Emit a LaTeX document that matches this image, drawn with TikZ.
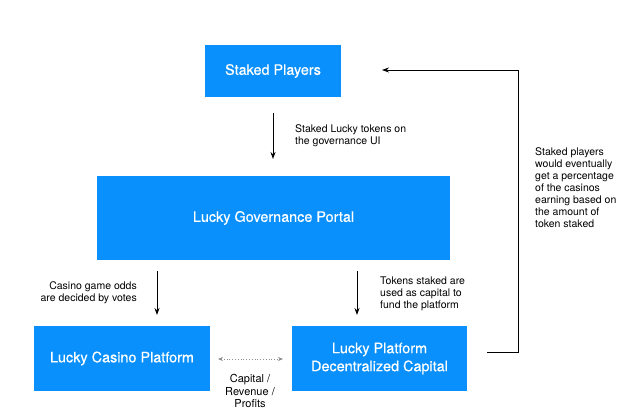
\documentclass[tikz,border=0pt]{standalone}
\usepackage{fontspec}
\setmainfont{TeX Gyre Heros}
\newfontfamily\boxfont[FakeBold=0.45]{TeX Gyre Heros}
\usetikzlibrary{arrows.meta}
\definecolor{boxblue}{RGB}{10,144,252}
\definecolor{dotgray}{RGB}{140,140,140}
\tikzset{
  bluebox/.style={fill=boxblue, draw=none, text=white, font=\boxfont\fontsize{14.4}{18}\selectfont, align=center, inner sep=0pt},
  lbl/.style={font=\fontsize{10.5}{12}\selectfont, inner sep=0pt},
  flow/.style={-{Stealth[length=7pt,width=5pt]}, line width=0.9pt},
}
\begin{document}
\begin{tikzpicture}[x=1pt,y=-1pt]
\useasboundingbox (0,0) rectangle (642,418);
\node[bluebox, minimum width=136pt, minimum height=52pt] (sp) at (273,71) {Staked Players};
\node[bluebox, minimum width=353pt, minimum height=84pt] (gp) at (273.5,218) {Lucky Governance Portal};
\node[bluebox, minimum width=176pt, minimum height=65pt] (cp) at (122,358.5) {Lucky Casino Platform};
\node[bluebox, minimum width=175pt, minimum height=65pt] (dc) at (379.5,358.5) {Lucky Platform\\Decentralized Capital};

\coordinate (a1s) at (273,113);
\coordinate (a1e) at (273,159);
\draw[flow] (a1s) -- (a1e);
\node[lbl, anchor=west, align=left] (l1) at (295,136) {Staked Lucky tokens on\\the governance UI};

\coordinate (a2s) at (157,271);
\coordinate (a2e) at (157,315);
\draw[flow] (a2s) -- (a2e);
\node[lbl, anchor=east, align=right] (l2) at (137,293) {Casino game odds\\are decided by votes};

\coordinate (a3s) at (357,271);
\coordinate (a3e) at (357,315);
\draw[flow] (a3s) -- (a3e);
\node[lbl, anchor=west, align=left] (l3) at (380,293.5) {Tokens staked are\\used as capital to\\fund the platform};

\coordinate (d1) at (218,359);
\coordinate (d2) at (283,359);
\draw[{Stealth[length=5pt,width=4pt]}-{Stealth[length=5pt,width=4pt]}, dotgray, dotted, line width=0.8pt] (d1) -- (d2);
\node[lbl, align=center, font=\fontsize{11}{12.2}\selectfont] (l4) at (250,391) {Capital /\\Revenue /\\Profits};

\coordinate (f1) at (487,352.5);
\coordinate (f2) at (518,352.5);
\coordinate (f3) at (518,70);
\coordinate (f4) at (382,70);
\draw[flow, line width=0.8pt] (f1) -- (f2) -- (f3) -- (f4);
\node[lbl, anchor=north west, align=left] (l5) at (535,147) {Staked players\\would eventually\\get a percentage\\of the casinos\\earning based on\\the amount of\\token staked};
\end{tikzpicture}
\end{document}
